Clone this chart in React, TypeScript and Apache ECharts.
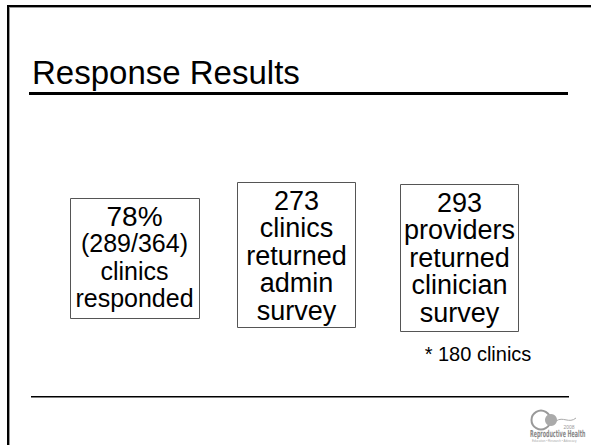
import React, { useEffect, useRef } from "react";
import * as echarts from "echarts";

const titleText = "Response Results";
const boxHeadlines = ["78%", "273", "293"];
const boxLines = [
  ["(289/364)", "clinics", "responded"],
  ["clinics", "returned", "admin", "survey"],
  ["providers", "returned", "clinician", "survey"],
];
const footnote = "* 180 clinics";
const logoName = "Reproductive Health";
const logoYear = "2008";
const logoTagline = "Education • Research • Advocacy";

// layout (positions kept separate from data)
const boxRects = [
  { x: 70.5, y: 198.5, w: 129, h: 120, cx: 134.5, y0: 216, headSize: 28, size: 25, gap: 27.3 },
  { x: 237.5, y: 182.5, w: 118, h: 145, cx: 296.5, y0: 201, headSize: 27, size: 27, gap: 27.4 },
  { x: 400.5, y: 184.5, w: 118, h: 147, cx: 459.5, y0: 203, headSize: 27, size: 27, gap: 27.4 },
];
const FONT = "'Liberation Sans', Arial, sans-serif";

export default function App() {
  const ref = useRef<HTMLDivElement>(null);
  useEffect(() => {
    if (!ref.current) return;
    const chart = echarts.init(ref.current, null, { renderer: "svg" });
    const elements: any[] = [];
    // slide frame
    elements.push({ type: "rect", shape: { x: 7, y: 5, width: 584, height: 2 }, style: { fill: "#000" } });
    elements.push({ type: "rect", shape: { x: 7, y: 5, width: 2, height: 440 }, style: { fill: "#000" } });
    elements.push({ type: "rect", shape: { x: 9, y: 7, width: 1, height: 438 }, style: { fill: "#999" } });
    elements.push({ type: "rect", shape: { x: 9, y: 7, width: 582, height: 1 }, style: { fill: "#999" } });
    // title
    elements.push({
      type: "text",
      x: 32,
      y: 72,
      style: { text: titleText, font: `33px ${FONT}`, fill: "#000", textAlign: "left", textVerticalAlign: "middle" },
    });
    elements.push({ type: "rect", shape: { x: 29, y: 92, width: 539, height: 3 }, style: { fill: "#000" } });
    // bottom rule
    elements.push({ type: "rect", shape: { x: 31, y: 396, width: 538, height: 1.5 }, style: { fill: "#000" } });
    // boxes
    boxRects.forEach((b, i) => {
      elements.push({
        type: "rect",
        shape: { x: b.x, y: b.y, width: b.w, height: b.h },
        style: { fill: "#fff", stroke: "#555", lineWidth: 1 },
      });
      elements.push({
        type: "text",
        x: b.cx,
        y: b.y0,
        style: { text: boxHeadlines[i], font: `${b.headSize}px ${FONT}`, fill: "#000", textAlign: "center", textVerticalAlign: "middle" },
      });
      boxLines[i].forEach((t, j) => {
        elements.push({
          type: "text",
          x: b.cx,
          y: b.y0 + (j + 1) * b.gap,
          style: { text: t, font: `${b.size}px ${FONT}`, fill: "#000", textAlign: "center", textVerticalAlign: "middle" },
        });
      });
    });
    // footnote
    elements.push({
      type: "text",
      x: 478,
      y: 354,
      style: { text: footnote, font: `20px ${FONT}`, fill: "#000", textAlign: "center", textVerticalAlign: "middle" },
    });
    // logo
    elements.push({ type: "circle", shape: { cx: 541, cy: 420, r: 9.5 }, style: { fill: "none", stroke: "#999", lineWidth: 2 } });
    elements.push({ type: "circle", shape: { cx: 551, cy: 420, r: 6 }, style: { fill: "#aaa" } });
    elements.push({
      type: "bezierCurve",
      shape: { x1: 556, y1: 421, x2: 576, y2: 418, cpx1: 563, cpy1: 416, cpx2: 569, cpy2: 424 },
      style: { stroke: "#aaa", lineWidth: 1, fill: "none" },
    });
    elements.push({
      type: "text",
      x: 569,
      y: 427,
      style: { text: logoYear, font: `5px ${FONT}`, fill: "#999", textAlign: "center", textVerticalAlign: "middle" },
    });
    elements.push({
      type: "text",
      x: 530,
      y: 434,
      scaleX: 0.56,
      style: { text: logoName, font: `bold 9.5px 'DejaVu Sans Condensed', ${FONT}`, fill: "#888", textAlign: "left", textVerticalAlign: "middle" },
    });
    elements.push({
      type: "text",
      x: 532,
      y: 441,
      style: { text: logoTagline, font: `3px ${FONT}`, fill: "#aaa", textAlign: "left", textVerticalAlign: "middle" },
    });
    chart.setOption({ animation: false, backgroundColor: "#fff", graphic: { elements } });
    return () => chart.dispose();
  }, []);
  return <div ref={ref} style={{ position: "absolute", left: 0, top: 0, width: 591, height: 445 }} />;
}
